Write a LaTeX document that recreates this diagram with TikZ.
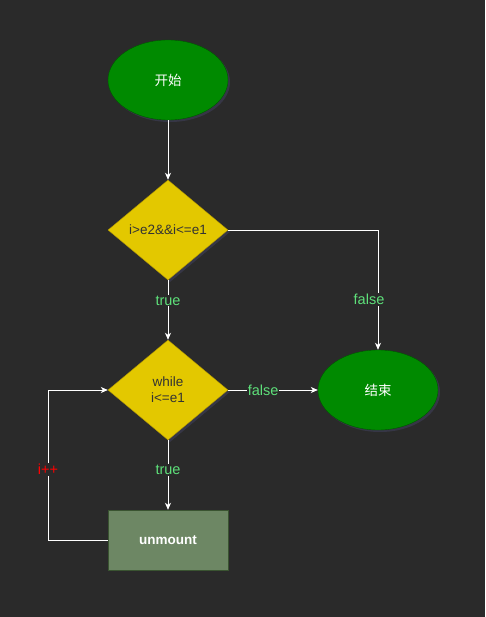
\documentclass[tikz,border=0pt]{standalone}
\usepackage{fontspec}
\setmainfont{Liberation Sans}
\newfontfamily\cjk{Noto Sans CJK SC}
\usetikzlibrary{arrows.meta,shapes.geometric,shadows}
\definecolor{bg}{HTML}{2A2A2A}
\definecolor{gfill}{HTML}{008A00}
\definecolor{gline}{HTML}{005700}
\definecolor{yfill}{HTML}{E3C800}
\definecolor{yline}{HTML}{B09500}
\definecolor{rfill}{HTML}{6D8764}
\definecolor{rline}{HTML}{3A5431}
\definecolor{lbl}{HTML}{5EE07A}
\definecolor{shd}{HTML}{3A3A4E}
\begin{document}
\begin{tikzpicture}[x=1pt,y=-1pt,
  every node/.style={font=\fontsize{13.5}{16}\selectfont},
  sh/.style={drop shadow={shadow xshift=2pt,shadow yshift=-2pt,fill=shd,opacity=0.8}},
  term/.style={ellipse,draw=gline,fill=gfill,minimum width=120pt,minimum height=80pt,inner sep=0pt,text=white,sh},
  cond/.style={diamond,draw=yline,fill=yfill,minimum width=120pt,minimum height=100pt,inner sep=0pt,aspect=1.2,text=black!80,align=center,sh},
  proc/.style={rectangle,draw=rline,fill=rfill,minimum width=120pt,minimum height=60pt,inner sep=0pt,text=white,font=\fontsize{13.5}{16}\selectfont\bfseries},
  conn/.style={draw=white,line width=0.8pt,-{Stealth[length=7pt,width=6pt,inset=2pt]}},
  elbl/.style={fill=bg,text=lbl,inner sep=1pt,font=\fontsize{14.5}{16}\selectfont},
]
\fill[bg] (0,0) rectangle (485,617);
\useasboundingbox (0,0) rectangle (485,617);
\node[term] (start) at (168,80) {\cjk 开始};
\node[cond] (d1) at (168,230) {};
\node[text=black!80] (d1t) at (168,230) {i>e2\&\&i<=e1};
\node[cond] (d2) at (168,390) {};
\node[text=black!80,align=center] (d2t) at (168,390) {while\\i<=e1};
\node[term] (end) at (378,390) {\cjk 结束};
\node[proc] (body) at (168,540) {unmount};
\coordinate (c1) at (378,230);
\coordinate (c2) at (48,540);
\coordinate (c3) at (48,390);
\draw[conn] (start.south) -- (d1.north);
\draw[conn] (d1.east) -- (c1) -- node[elbl,pos=0.58,xshift=-9pt] {false} (end.north);
\draw[conn] (d1.south) -- node[elbl,pos=0.34] {true} (d2.north);
\draw[conn] (d2.east) -- node[elbl,pos=0.39] {false} (end.west);
\draw[conn] (d2.south) -- node[elbl,pos=0.43] {true} (body.north);
\draw[conn] (body.west) -- (c2) -- node[elbl,text=red,pos=0.47] {i++} (c3) -- (d2.west);
\end{tikzpicture}
\end{document}
